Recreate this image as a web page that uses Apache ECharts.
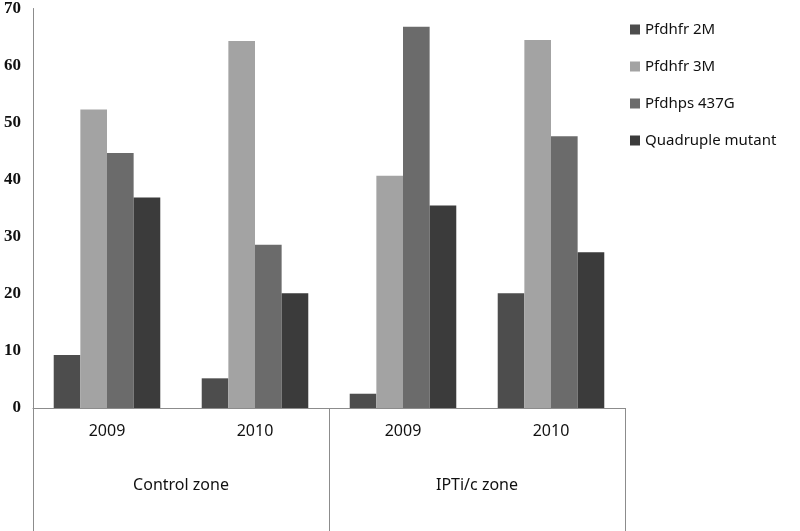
<!DOCTYPE html>
<html>
<head>
<meta charset="utf-8">
<script src="https://cdn.jsdelivr.net/npm/echarts@6/dist/echarts.min.js"></script>
<style>
  html, body { margin: 0; padding: 0; background: #fff; }
  #chart { width: 800px; height: 531px; }
</style>
</head>
<body>
<div id="chart"></div>
<script>
var years = ['2009', '2010', '2009', '2010'];
var zones = ['Control zone', 'IPTi/c zone'];
var seriesNames = ['Pfdhfr 2M', 'Pfdhfr 3M', 'Pfdhps 437G', 'Quadruple mutant'];
var dhfr2M = [9.3, 5.2, 2.5, 20.1];
var dhfr3M = [52.3, 64.3, 40.7, 64.5];
var dhps437G = [44.7, 28.6, 66.8, 47.6];
var quadruple = [36.9, 20.1, 35.5, 27.3];
var colors = ['#4d4d4d', '#a3a3a3', '#6b6b6b', '#3b3b3b'];

var values = [dhfr2M, dhfr3M, dhps437G, quadruple];
var series = [];
seriesNames.forEach(function (name, i) {
  series.push({
    name: name,
    type: 'bar',
    xAxisIndex: 0,
    data: values[i],
    barGap: '0%',
    barCategoryGap: '28%',
    itemStyle: { color: colors[i] }
  });
});

var option = {
  backgroundColor: '#fff',
  animation: false,
  grid: { left: 33, right: 175, top: 8, bottom: 123 },
  legend: {
    orient: 'vertical',
    left: 625,
    top: 17,
    itemWidth: 10,
    itemHeight: 10,
    itemGap: 22,
    icon: 'rect',
    data: seriesNames,
    textStyle: { fontFamily: 'Noto Sans', fontSize: 15, color: '#111' }
  },
  xAxis: [
    {
      type: 'category',
      data: years,
      position: 'bottom',
      axisLine: { lineStyle: { color: '#8c8c8c', width: 1 } },
      axisTick: { show: false },
      axisLabel: { margin: 15, fontFamily: 'Noto Sans', fontSize: 16, color: '#111' }
    },
    {
      type: 'category',
      data: zones,
      position: 'bottom',
      axisLine: { show: false },
      axisTick: { show: true, length: 125, lineStyle: { color: '#8c8c8c', width: 1 } },
      axisLabel: { margin: 69, fontFamily: 'Noto Sans', fontSize: 16, color: '#111' }
    }
  ],
  yAxis: {
    type: 'value',
    min: 0,
    max: 70,
    interval: 10,
    axisLine: { show: true, lineStyle: { color: '#8c8c8c', width: 1 } },
    axisTick: { show: false },
    splitLine: { show: false },
    axisLabel: { margin: 12, fontFamily: 'Liberation Serif', fontWeight: 'bold', fontSize: 17, color: '#111' }
  },
  series: series
};

var myChart = echarts.init(document.getElementById('chart'));
myChart.setOption(option);
</script>
</body>
</html>
